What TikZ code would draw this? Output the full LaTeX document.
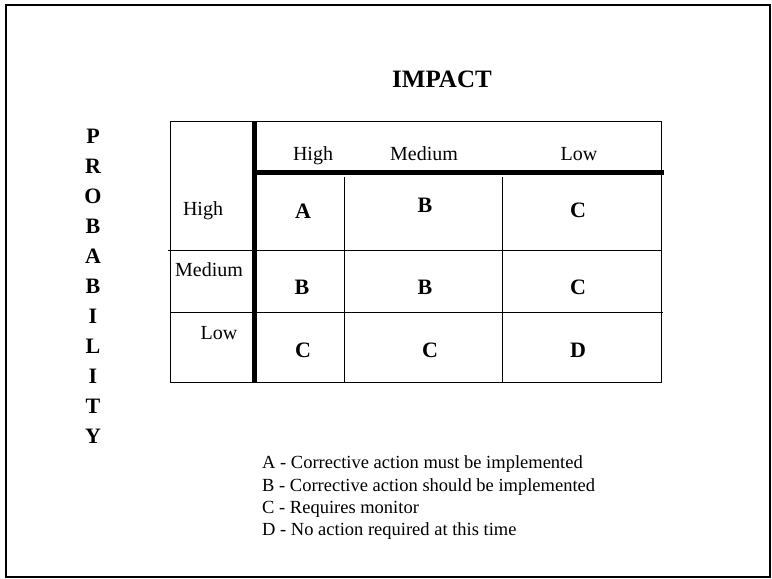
\documentclass[tikz,border=0pt]{standalone}
\usepackage{fontspec}
\setmainfont{Liberation Serif}
\tikzset{
  txt/.style={inner sep=0pt, anchor=base, font=\fontsize{20}{24}\selectfont},
  grade/.style={txt, font=\fontsize{22}{26}\selectfont\bfseries},
  key/.style={inner sep=0pt, anchor=base west, font=\fontsize{18.5}{22}\selectfont},
  thin/.style={line width=0.9pt},
  thick bar/.style={line width=5pt}
}
\begin{document}
\begin{tikzpicture}[x=1pt, y=-1pt]
      \useasboundingbox (0,0) rectangle (772,579);
      \draw[line width=2.5pt] (6,5) rectangle (770,577);
      \node[grade, font=\fontsize{25}{30}\selectfont\bfseries] (impact) at (442,87) {IMPACT};
      \foreach \l [count=\i from 0] in {P,R,O,B,A,B,I,L,I,T,Y}
        \node[grade] (prob\i) at (93,143+30*\i) {\l};
      % grid
      \begin{scope}[thin]
        \draw (170,121) rectangle (661,382);
        \draw (168,250) -- (661,250);
        \draw (170,312) -- (663,312);
        \draw (344,177) -- (344,382);
        \draw (502,177) -- (502,382);
      \end{scope}
      \begin{scope}[thick bar]
        \draw (254,121) -- (254,382);
        \draw (254,172) -- (664,172);
      \end{scope}
      \draw
        (313,160) node[txt] (hHigh){High}
        (424,160) node[txt] (hMedium){Medium}
        (579,160) node[txt] (hLow){Low}
        (203,215) node[txt] (rHigh){High}
        (209,276) node[txt] (rMedium){Medium}
        (219,339) node[txt] (rLow){Low};
      \draw
        (303,218) node[grade] (a11){A}
        (425,212) node[grade] (a12){B}
        (578,217) node[grade] (a13){C}
        (302,294) node[grade] (a21){B}
        (425,294) node[grade] (a22){B}
        (578,294) node[grade] (a23){C}
        (303,357) node[grade] (a31){C}
        (430,357) node[grade] (a32){C}
        (578,357) node[grade] (a33){D};
      \draw
        (262,468) node[key] (keyA){A - Corrective action must be implemented}
        (262,491) node[key] (keyB){B - Corrective action should be implemented}
        (262,513) node[key] (keyC){C - Requires monitor}
        (262,535) node[key] (keyD){D - No action required at this time};
    \end{tikzpicture}
\end{document}
